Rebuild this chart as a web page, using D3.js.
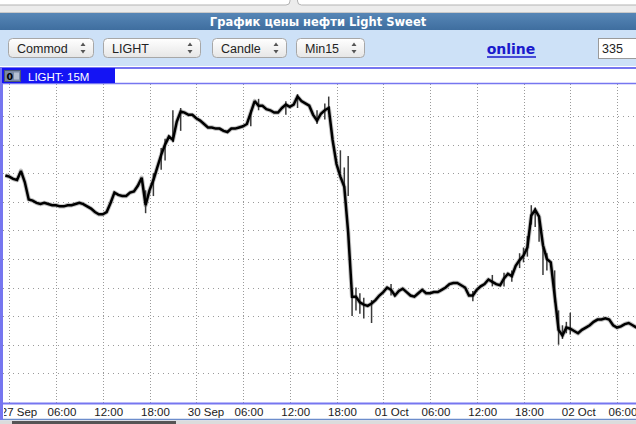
<!DOCTYPE html>
<html><head><meta charset="utf-8">
<script src="https://cdn.jsdelivr.net/npm/d3@7"></script>
<style>body{margin:0;background:#fff;overflow:hidden}svg{display:block}</style>
</head><body>
<svg id="c" width="636" height="424"></svg>
<script>
// ---------- data ----------
const titleText = "График цены нефти Light Sweet";
const seriesName = "LIGHT: 15M";
const selectLabels = ["Commod", "LIGHT", "Candle", "Min15"];
const linkText = "online";
const inputValue = "335";
const tickLabels = ["27 Sep","06:00","12:00","18:00","30 Sep","06:00","12:00","18:00","01 Oct","06:00","12:00","18:00","02 Oct","06:00"];
const tickHours  = [0,6,12,18,24,30,36,42,48,54,60,66,72,78];
const gridPrices = [103.25,103.0,102.75,102.5,102.25,102.0,101.75,101.5,101.25,101.0];
const startHour = -0.5, stepHours = 0.5;   // half-hour samples, trading hours only
const closePrices = [
 102.73,102.72,102.70,102.69,102.77,102.67,102.52,102.51,102.49,102.48,
 102.49,102.48,102.47,102.47,102.46,102.46,102.47,102.47,102.48,102.49,
 102.48,102.46,102.44,102.41,102.39,102.39,102.41,102.49,102.58,102.56,
 102.55,102.55,102.58,102.59,102.64,102.71,102.47,102.60,102.69,102.80,
 102.91,103.00,103.07,103.04,103.20,103.29,103.28,103.26,103.26,103.23,
 103.21,103.18,103.15,103.15,103.14,103.14,103.12,103.11,103.14,103.14,
 103.15,103.16,103.18,103.28,103.38,103.34,103.34,103.31,103.30,103.28,
 103.28,103.32,103.35,103.33,103.35,103.42,103.38,103.36,103.34,103.26,
 103.21,103.27,103.30,103.32,103.04,102.83,102.72,102.63,102.23,101.67,
 101.67,101.62,101.60,101.59,101.61,101.64,101.68,101.71,101.75,101.73,
 101.68,101.72,101.74,101.71,101.68,101.67,101.70,101.73,101.70,101.70,
 101.71,101.71,101.73,101.75,101.78,101.79,101.79,101.77,101.75,101.68,
 101.68,101.73,101.76,101.78,101.82,101.80,101.78,101.77,101.83,101.87,
 101.85,101.94,101.99,102.03,102.10,102.38,102.43,102.37,102.12,102.00,
 101.97,101.68,101.38,101.33,101.40,101.39,101.37,101.35,101.38,101.40,
 101.42,101.45,101.47,101.47,101.48,101.47,101.42,101.40,101.41,101.43,
 101.44,101.42,101.40
];
const wickHours = [17.5, 18.5, 19.5, 20, 21, 22, 31, 32, 35.5, 37, 39.5, 40.5, 41, 42.5, 43, 43.5,
                   44, 44.5, 45, 45.5, 46.5, 49, 59.5, 62, 63.5, 64.5, 65.5, 66, 66.5, 67, 67.5, 68,
                   68.5, 69, 70, 70.5, 71, 71.5, 72];
const wickHigh  = [102.60,102.75,102.97,103.05,103.30,103.32,103.30,103.40,103.38,103.44,103.30,103.36,103.42,102.95,102.80,102.90,
                   101.70,101.75,101.70,101.66,101.64,101.78,101.72,101.86,101.88,101.90,102.05,102.10,102.20,102.47,102.45,102.38,
                   102.10,102.05,101.90,101.55,101.42,101.45,101.53];
const wickLow   = [102.40,102.55,102.78,102.86,103.02,103.12,103.16,103.30,103.26,103.32,103.18,103.22,103.28,102.75,102.62,102.55,
                   101.50,101.55,101.52,101.48,101.44,101.68,101.63,101.76,101.76,101.80,101.92,101.97,102.02,102.30,102.28,102.15,
                   101.86,101.90,101.62,101.25,101.30,101.35,101.34];

// ---------- layout ----------
const W = 636, H = 424;
const plot = {left: 3, right: 636, top: 84, bottom: 403};
const svg = d3.select("#c");
const defs = svg.append("defs");

// top strip
svg.append("rect").attr("x",0).attr("y",0).attr("width",W).attr("height",13).attr("fill","#ececec");
svg.append("rect").attr("x",-4).attr("y",-8).attr("width",294).attr("height",13).attr("rx",4)
  .attr("fill","#fff").attr("stroke","#b3b3b3");
svg.append("rect").attr("x",297.5).attr("y",-8).attr("width",345).attr("height",13).attr("rx",4)
  .attr("fill","#fff").attr("stroke","#b3b3b3");
svg.append("line").attr("x1",0).attr("x2",W).attr("y1",12.5).attr("y2",12.5).attr("stroke","#c9c9c9");

// title bar
const tg = defs.append("linearGradient").attr("id","tg").attr("x1",0).attr("x2",0).attr("y1",0).attr("y2",1);
tg.append("stop").attr("offset",0).attr("stop-color","#5686b6");
tg.append("stop").attr("offset",1).attr("stop-color","#3f6e9f");
svg.append("rect").attr("x",0).attr("y",13).attr("width",W).attr("height",17).attr("fill","url(#tg)");
svg.append("text").attr("x",318).attr("y",25.5).attr("text-anchor","middle")
  .attr("font-family","DejaVu Sans").attr("font-weight","bold").attr("font-size",11.5)
  .attr("fill","#fff").text(titleText);

// control bar
svg.append("rect").attr("x",0).attr("y",30).attr("width",W).attr("height",36).attr("fill","#cde1f7");
const sg = defs.append("linearGradient").attr("id","sg").attr("x1",0).attr("x2",0).attr("y1",0).attr("y2",1);
sg.append("stop").attr("offset",0).attr("stop-color","#ffffff");
sg.append("stop").attr("offset",1).attr("stop-color","#e6e6e6");
const selBoxes = [[8,93],[103,200],[212,286],[296,364]];
selectLabels.forEach((lab,i)=>{
  const [x0,x1] = selBoxes[i];
  svg.append("rect").attr("x",x0+0.5).attr("y",38.5).attr("width",x1-x0).attr("height",19).attr("rx",4)
    .attr("fill","url(#sg)").attr("stroke","#a7a7a7");
  svg.append("text").attr("x",x0+9).attr("y",52.5).attr("font-family","Liberation Sans")
    .attr("font-size",12.5).attr("fill","#222").text(lab);
  const cx = x1-10;
  svg.append("path").attr("d",`M${cx-2.5},46L${cx+2.5},46L${cx},42.5Z M${cx-2.5},50L${cx+2.5},50L${cx},53.5Z`)
    .attr("fill","#555");
});
svg.append("text").attr("x",511).attr("y",54).attr("text-anchor","middle")
  .attr("font-family","DejaVu Sans").attr("font-weight","bold").attr("font-size",14)
  .attr("fill","#1a1acc").text(linkText);
svg.append("line").attr("x1",487).attr("x2",536).attr("y1",57).attr("y2",57)
  .attr("stroke","#1a1acc").attr("stroke-width",1.5);
svg.append("rect").attr("x",598.5).attr("y",38.5).attr("width",45).attr("height",20)
  .attr("fill","#fff").attr("stroke","#9a9a9a");
svg.append("text").attr("x",602).attr("y",53).attr("font-family","Liberation Sans")
  .attr("font-size",12.5).attr("fill","#222").text(inputValue);

// chart panel
svg.append("rect").attr("x",0).attr("y",66).attr("width",W).attr("height",H-66).attr("fill","#fff");

// scales
const x = d3.scaleLinear().domain([6, 78]).range([56, 617]);
const y = d3.scaleLinear().domain([101.0, 103.25]).range([373.3, 116]);

defs.append("clipPath").attr("id","pc").append("rect")
  .attr("x",plot.left).attr("y",plot.top).attr("width",plot.right-plot.left).attr("height",plot.bottom-plot.top);
defs.append("clipPath").attr("id","ac").append("rect")
  .attr("x",4).attr("y",plot.bottom).attr("width",plot.right-4).attr("height",16);

// grid
const grid = svg.append("g").attr("clip-path","url(#pc)");
grid.selectAll("line.v").data(tickHours).join("line").attr("class","v")
  .attr("x1",d=>Math.round(x(d))+0.5).attr("x2",d=>Math.round(x(d))+0.5)
  .attr("y1",plot.top).attr("y2",plot.bottom)
  .attr("stroke","#9a9a9a").attr("stroke-dasharray","1,2");
grid.selectAll("line.h").data(gridPrices).join("line").attr("class","h")
  .attr("x1",plot.left).attr("x2",plot.right)
  .attr("y1",d=>Math.round(y(d))+0.5).attr("y2",d=>Math.round(y(d))+0.5)
  .attr("stroke","#9a9a9a").attr("stroke-dasharray","1,4");

// price series
const pts = closePrices.map((p,i)=>({h: startHour + i*stepHours, p}));
const line = d3.line().x(d=>x(d.h)).y(d=>y(d.p));
const series = svg.append("g").attr("clip-path","url(#pc)");
series.append("path").datum(pts).attr("d",line).attr("fill","none")
  .attr("stroke","#8a8a8a").attr("stroke-width",4.4).attr("stroke-linejoin","round").attr("opacity",0.55);
series.selectAll("line.w").data(wickHours).join("line").attr("class","w")
  .attr("x1",d=>x(d)).attr("x2",d=>x(d))
  .attr("y1",(d,i)=>y(wickHigh[i])).attr("y2",(d,i)=>y(wickLow[i]))
  .attr("stroke","#3a3a3a").attr("stroke-width",1.5);
series.append("path").datum(pts).attr("d",line).attr("fill","none")
  .attr("stroke","#000").attr("stroke-width",2.5).attr("stroke-linejoin","miter").attr("stroke-miterlimit",2);

// x axis labels
const ax = svg.append("g").attr("clip-path","url(#ac)");
ax.selectAll("text").data(tickHours).join("text")
  .attr("x",d=>x(d)-8.5).attr("y",415.5)
  .attr("font-family","Liberation Sans").attr("font-size",11.5).attr("fill","#1a1a1a")
  .text((d,i)=>tickLabels[i]);

// borders
const bc = "#7676f0";
svg.append("line").attr("x1",0).attr("x2",W).attr("y1",68).attr("y2",68).attr("stroke",bc).attr("stroke-width",2);
svg.append("line").attr("x1",0).attr("x2",W).attr("y1",83.5).attr("y2",83.5).attr("stroke",bc).attr("stroke-width",1.5);
svg.append("line").attr("x1",0).attr("x2",W).attr("y1",403.5).attr("y2",403.5).attr("stroke",bc).attr("stroke-width",2);
svg.append("line").attr("x1",0).attr("x2",W).attr("y1",419.5).attr("y2",419.5).attr("stroke","#6c8dcc").attr("stroke-width",1.5);
svg.append("rect").attr("x",0).attr("y",420.5).attr("width",W).attr("height",4).attr("fill","#dcdcdc");
svg.append("rect").attr("x",12).attr("y",421).attr("width",164).attr("height",4).attr("fill","#555");
svg.append("line").attr("x1",1.5).attr("x2",1.5).attr("y1",67).attr("y2",420).attr("stroke",bc).attr("stroke-width",3);

// series label
svg.append("rect").attr("x",2).attr("y",68).attr("width",113).attr("height",15).attr("fill","#1414f4");
svg.append("rect").attr("x",4.5).attr("y",70.5).attr("width",16).attr("height",11).attr("fill","#7a8aa6").attr("stroke","#4d5a70");
svg.append("rect").attr("x",14).attr("y",72.5).attr("width",5).attr("height",7).attr("fill","#b4bfd2");
svg.append("text").attr("x",6.5).attr("y",80).attr("font-family","DejaVu Sans").attr("font-weight","bold")
  .attr("font-size",9.5).attr("fill","#000").text("0");
svg.append("text").attr("x",28).attr("y",80.5).attr("font-family","Liberation Sans")
  .attr("font-size",11.5).attr("fill","#fff").text(seriesName);
</script>
</body></html>
